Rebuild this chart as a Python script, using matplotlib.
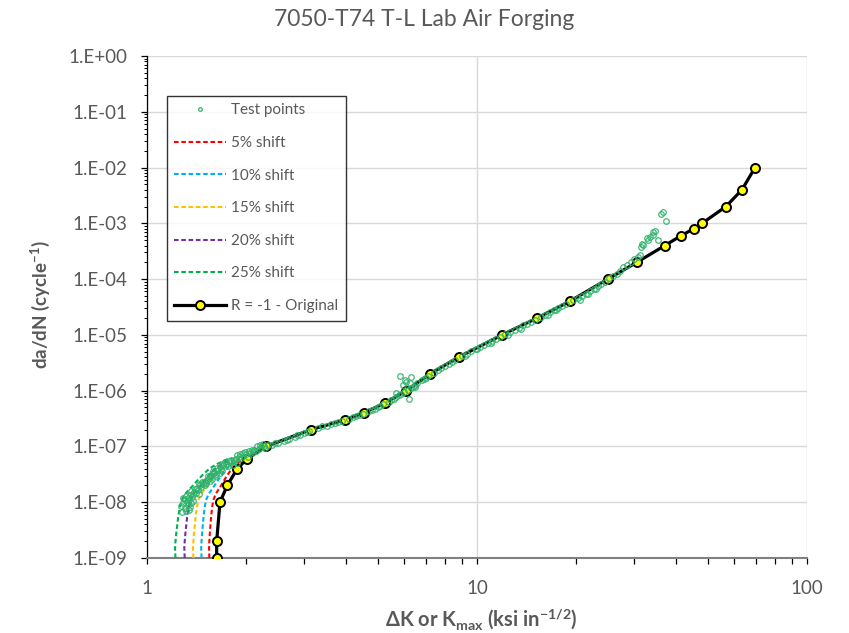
import numpy as np
import matplotlib
matplotlib.use('Agg')
import matplotlib.pyplot as plt
from matplotlib.path import Path
from matplotlib.patches import PathPatch
from matplotlib.lines import Line2D
from matplotlib.ticker import FuncFormatter, LogLocator, NullFormatter, FixedLocator

plt.rcParams['font.family'] = ['Lato', 'DejaVu Sans']
plt.rcParams['mathtext.default'] = 'regular'

# ---------------- data ----------------
title = "7050-T74 T-L Lab Air Forging"

orig_dk = [1.626, 1.626, 1.664, 1.751, 1.877, 2.01, 2.29, 3.14, 3.98, 4.54, 5.26,
           6.1, 7.2, 8.8, 11.9, 15.2, 19.1, 24.9, 30.5, 37.1, 41.5, 45.4, 48.1,
           56.8, 63.5, 69.6]
orig_dadn = [1e-9, 2e-9, 1e-8, 2e-8, 4e-8, 6e-8, 1e-7, 2e-7, 3e-7, 4e-7, 6e-7,
             1e-6, 2e-6, 4e-6, 1e-5, 2e-5, 4e-5, 1e-4, 2e-4, 4e-4, 6e-4, 8e-4, 1e-3,
             2e-3, 4e-3, 1e-2]

shift_labels = ['5% shift', '10% shift', '15% shift', '20% shift', '25% shift']
shift_dadn = [1e-9, 2e-9, 1e-8, 2e-8, 4e-8, 6e-8]
shift5_dk = [1.545, 1.545, 1.585, 1.677, 1.811, 1.960]
shift10_dk = [1.463, 1.463, 1.506, 1.602, 1.746, 1.910]
shift15_dk = [1.382, 1.382, 1.427, 1.528, 1.680, 1.859]
shift20_dk = [1.301, 1.301, 1.348, 1.453, 1.614, 1.809]
shift25_dk = [1.220, 1.220, 1.269, 1.379, 1.549, 1.759]

test_dk = [
    # near-threshold band
    1.28, 1.31, 1.34, 1.30, 1.35,
    1.29, 1.32, 1.36, 1.30, 1.34, 1.38,
    1.35, 1.38, 1.41, 1.44, 1.36, 1.40, 1.43,
    1.45, 1.48, 1.51, 1.47, 1.52, 1.55,
    1.53, 1.56, 1.59, 1.62, 1.66, 1.58, 1.64, 1.69,
    1.66, 1.70, 1.74, 1.78, 1.83, 1.87, 1.72, 1.80, 1.86,
    1.90, 1.95, 2.00, 2.05, 2.10, 1.92, 1.98, 2.08, 2.14,
    2.18, 2.22, 2.26, 2.20, 2.32, 2.28,
    1.33, 1.37, 1.39, 1.42, 1.46, 1.50, 1.44, 1.49, 1.54, 1.57, 1.61, 1.55,
    1.60, 1.68, 1.63, 1.76, 1.69, 1.82, 1.77, 1.84, 1.93, 1.88, 2.02, 1.96,
    2.11, 2.04, 2.16, 2.24, 1.27, 1.33, 1.29, 1.31,
    # Paris region
    2.40, 2.50, 2.60, 2.70, 2.80, 2.90, 3.00, 3.10, 2.45, 2.65, 2.85, 3.05,
    3.30, 3.40, 3.50, 3.60, 3.70, 3.80, 3.90,
    4.10, 4.20, 4.30, 4.40, 4.50,
    4.70, 4.80, 4.90, 5.00, 5.10, 5.20,
    5.40, 5.50, 5.60, 5.70, 5.80, 5.90, 6.00,
    6.20, 6.30, 6.50, 6.60, 6.80, 6.90, 7.00, 7.10,
    7.40, 7.60, 7.80, 8.00, 8.20, 8.40, 8.60,
    9.00, 9.30, 9.60, 9.90, 10.2, 10.5, 10.8, 11.1, 11.4, 11.7,
    12.2, 12.6, 13.0, 13.4, 13.8, 14.2, 14.6, 15.0,
    15.6, 16.1, 16.6, 17.1, 17.6, 18.1, 18.6,
    19.6, 20.2, 20.8, 21.4, 22.0, 22.6, 23.2, 23.8, 24.4,
    9.2, 10.0, 11.0, 12.4, 13.6, 16.4, 17.4, 20.5, 21.7, 23.0,
    # scatter near dK ~ 6
    5.84, 6.33, 6.10, 5.96, 6.50, 6.23, 5.70, 6.27, 6.40, 6.05,
    # upper region
    25.2, 25.8, 26.5, 27.1, 27.7, 28.4, 29.3, 30.0, 30.7, 31.2,
    31.3, 31.7, 31.9, 32.7, 32.9, 33.4, 34.1, 34.2, 34.6, 35.3, 36.2, 36.6, 37.5,
]
test_dadn = [
    6.8e-9, 7.0e-9, 7.2e-9, 8.0e-9, 8.2e-9,
    9.5e-9, 1.0e-8, 9.6e-9, 1.1e-8, 1.1e-8, 1.05e-8,
    1.35e-8, 1.4e-8, 1.45e-8, 1.4e-8, 1.6e-8, 1.7e-8, 1.65e-8,
    2.0e-8, 2.1e-8, 2.2e-8, 2.3e-8, 2.5e-8, 2.4e-8,
    2.9e-8, 3.1e-8, 3.3e-8, 3.2e-8, 3.4e-8, 3.6e-8, 3.8e-8, 3.6e-8,
    4.3e-8, 4.6e-8, 4.8e-8, 5.0e-8, 5.2e-8, 5.0e-8, 5.2e-8, 5.6e-8, 5.9e-8,
    6.5e-8, 6.8e-8, 7.2e-8, 7.5e-8, 7.8e-8, 7.4e-8, 8.0e-8, 8.5e-8, 8.2e-8,
    9.0e-8, 9.6e-8, 1.0e-7, 1.04e-7, 1.06e-7, 9.3e-8,
    1.2e-8, 1.25e-8, 1.55e-8, 1.8e-8, 1.9e-8, 2.0e-8, 2.1e-8, 2.35e-8, 2.7e-8, 2.6e-8, 2.9e-8, 3.0e-8,
    3.4e-8, 4.0e-8, 4.1e-8, 4.4e-8, 4.9e-8, 4.7e-8, 5.4e-8, 5.8e-8, 6.2e-8, 6.9e-8, 6.6e-8, 7.6e-8,
    8.8e-8, 8.2e-8, 1.0e-7, 1.1e-7, 8.5e-9, 8.8e-9, 1.2e-8, 1.3e-8,
    1.07e-7, 1.15e-7, 1.27e-7, 1.36e-7, 1.50e-7, 1.60e-7, 1.76e-7, 1.88e-7, 1.13e-7, 1.30e-7, 1.58e-7, 1.78e-7,
    2.10e-7, 2.28e-7, 2.34e-7, 2.55e-7, 2.58e-7, 2.78e-7, 2.85e-7,
    3.15e-7, 3.35e-7, 3.45e-7, 3.70e-7, 3.85e-7,
    4.25e-7, 4.55e-7, 4.75e-7, 5.05e-7, 5.30e-7, 5.65e-7,
    6.35e-7, 6.8e-7, 7.2e-7, 7.7e-7, 8.2e-7, 8.7e-7, 9.3e-7,
    1.04e-6, 1.12e-6, 1.27e-6, 1.36e-6, 1.53e-6, 1.63e-6, 1.72e-6, 1.85e-6,
    2.1e-6, 2.35e-6, 2.55e-6, 2.75e-6, 3.0e-6, 3.25e-6, 3.5e-6,
    4.2e-6, 4.6e-6, 5.1e-6, 5.5e-6, 6.1e-6, 6.6e-6, 7.3e-6, 7.9e-6, 8.6e-6, 9.3e-6,
    1.04e-5, 1.13e-5, 1.24e-5, 1.35e-5, 1.48e-5, 1.60e-5, 1.72e-5, 1.86e-5,
    2.1e-5, 2.3e-5, 2.55e-5, 2.8e-5, 3.05e-5, 3.35e-5, 3.6e-5,
    4.2e-5, 4.6e-5, 5.0e-5, 5.5e-5, 6.1e-5, 6.7e-5, 7.4e-5, 8.2e-5, 9.0e-5,
    4.1e-6, 5.6e-6, 7.2e-6, 1.0e-5, 1.3e-5, 2.3e-5, 2.8e-5, 4.3e-5, 5.4e-5, 6.6e-5,
    1.83e-6, 1.77e-6, 1.44e-6, 1.26e-6, 1.17e-6, 7.0e-7, 8.9e-7, 1.37e-6, 1.17e-6, 1.55e-6,
    1.05e-4, 1.12e-4, 1.22e-4, 1.42e-4, 1.65e-4, 1.78e-4, 2.05e-4, 2.3e-4, 2.5e-4, 2.7e-4,
    3.8e-4, 4.2e-4, 4.06e-4, 5.4e-4, 5.0e-4, 5.7e-4, 6.2e-4, 7.0e-4, 7.2e-4, 5.0e-4, 1.5e-3, 1.6e-3, 1.12e-3,
]

# ---------------- styles ----------------
shift_colors = ['#ff0000', '#00b0f0', '#ffc000', '#7030a0', '#00b050']
test_color = '#2fb26a'
text_color = '#595959'
grid_color = '#d9d9d9'

fig = plt.figure(figsize=(8.49, 6.33), dpi=100)
ax = fig.add_axes([147/849, 1-558/633, 660/849, 502/633])
ax.set_xscale('log')
ax.set_yscale('log')
ax.set_xlim(1, 100)
ax.set_ylim(1e-9, 1)


def smooth_curve(ax, xs, ys, **kw):
    """Excel-like smoothed line: Catmull-Rom as cubic Bezier in log space."""
    P = np.column_stack([np.log10(xs), np.log10(ys)])
    n = len(P)
    verts = [P[0]]
    codes = [Path.MOVETO]
    for i in range(n - 1):
        p0 = P[i - 1] if i > 0 else P[i]
        p1, p2 = P[i], P[i + 1]
        p3 = P[i + 2] if i + 2 < n else P[i + 1]
        verts += [p1 + (p2 - p0) / 6, p2 - (p3 - p1) / 6, p2]
        codes += [Path.CURVE4] * 3
    verts = 10 ** np.array(verts)
    patch = PathPatch(Path(verts, codes), fill=False, **kw)
    ax.add_patch(patch)
    return patch


dash = (0, (2.2, 1.3))
handles = []
labels = []

ax.plot(test_dk, test_dadn, linestyle='none', marker='o', ms=4.0,
        mfc='none', mec=test_color, mew=0.9, alpha=0.9, zorder=5)
handles.append(Line2D([], [], linestyle='none', marker='o', ms=2.6, mfc='none',
                      mec=test_color, mew=0.9))
labels.append('Test points')

for xs, lab, col in zip([shift5_dk, shift10_dk, shift15_dk, shift20_dk, shift25_dk],
                        shift_labels, shift_colors):
    smooth_curve(ax, xs, shift_dadn, edgecolor=col, linewidth=1.5,
                 linestyle=dash, zorder=3)
    handles.append(Line2D([], [], color=col, lw=1.5, linestyle=dash))
    labels.append(lab)

ax.plot(orig_dk, orig_dadn, color='black', lw=2.3, marker='o', ms=6.5,
        mfc='#ffff00', mec='black', mew=1.4, zorder=4)
handles.append(Line2D([], [], color='black', lw=2.3, marker='o', ms=6.5,
                      mfc='#ffff00', mec='black', mew=1.4))
labels.append('R = -1 - Original')

# grid & spines
ax.grid(True, which='major', color=grid_color, lw=1.0)
ax.set_axisbelow(True)
for s in ['top', 'right']:
    ax.spines[s].set_visible(False)
ax.spines['left'].set_color('black')
ax.spines['bottom'].set_color('#808080')
ax.spines['bottom'].set_linewidth(1.5)
ax.spines['left'].set_linewidth(0.9)

ax.yaxis.set_major_locator(LogLocator(base=10, numticks=20))
ax.yaxis.set_minor_locator(LogLocator(base=10, subs=np.arange(2, 10), numticks=20))
ax.yaxis.set_minor_formatter(NullFormatter())
ax.yaxis.set_major_formatter(FuncFormatter(lambda v, p: '1.E%+03d' % int(round(np.log10(v)))))
ax.xaxis.set_major_locator(FixedLocator([1, 10, 100]))
ax.xaxis.set_minor_locator(LogLocator(base=10, subs=np.arange(2, 10), numticks=20))
ax.xaxis.set_minor_formatter(NullFormatter())
ax.xaxis.set_major_formatter(FuncFormatter(lambda v, p: '%d' % v))

ax.tick_params(axis='y', which='major', direction='out', length=4, width=0.9,
               color='black', labelsize=13.5, labelcolor=text_color, pad=10)
ax.tick_params(axis='y', which='minor', direction='out', length=2.5, width=0.7, color='black')
ax.tick_params(axis='x', which='major', direction='out', length=4, width=0.9,
               color='black', labelsize=13.5, labelcolor=text_color, pad=12)
ax.tick_params(axis='x', which='minor', direction='out', length=4, width=0.9, color='black')

leg = ax.legend(handles, labels, loc='upper left', bbox_to_anchor=(0.030, 0.921),
                frameon=True, fancybox=False, edgecolor='black', fontsize=11,
                handlelength=3.4, handletextpad=0.3, labelspacing=1.22,
                borderpad=0.5, borderaxespad=0, labelcolor=text_color, numpoints=1)
leg.get_frame().set_linewidth(1.0)
leg.set_zorder(10)

fig.text(0.5, 1 - 20/633, title, ha='center', va='center', fontsize=16.5, color=text_color)
fig.text(481/849, 1 - 619/633, r'ΔK or K$_{max}$ (ksi in$^{-1/2}$)', ha='center', va='center',
         fontsize=14.5, fontweight='bold', color=text_color)
fig.text(40/849, 1 - 305/633, r'da/dN (cycle$^{-1}$)', ha='center', va='center',
         rotation=90, fontsize=13.5, fontweight='bold', color=text_color)

fig.savefig('out.png', dpi=100)
